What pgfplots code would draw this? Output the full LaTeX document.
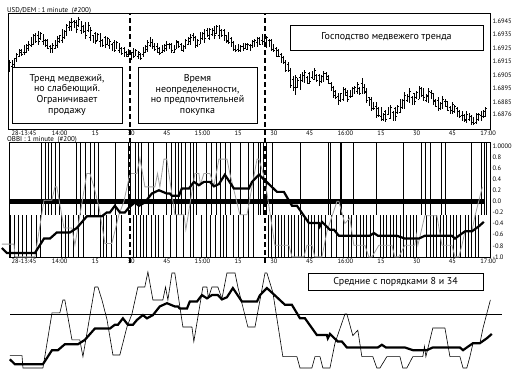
\documentclass[border=0pt]{standalone}
\usepackage{pgfplots}
\pgfplotsset{compat=1.18}
\usepackage{pgfplotstable}
\usepackage{fontspec}
\setmainfont{PT Sans}

\pgfplotstableread{
t hi lo op cl
-6 1.6916 1.6907 1.6908 1.6914
-4 1.6918 1.6911 1.6913 1.6917
-2 1.6924 1.6918 1.6919 1.6923
0 1.6927 1.6920 1.6922 1.6926
2 1.6930 1.6923 1.6925 1.6928
4 1.6935 1.6927 1.6928 1.6934
6 1.6938 1.6927 1.6934 1.6930
8 1.6935 1.6927 1.6930 1.6933
10 1.6932 1.6924 1.6931 1.6925
12 1.6929 1.6921 1.6925 1.6927
14 1.6934 1.6925 1.6927 1.6932
16 1.6939 1.6929 1.6931 1.6937
18 1.6943 1.6934 1.6936 1.6942
20 1.6947 1.6938 1.6941 1.6944
22 1.6946 1.6936 1.6944 1.6939
24 1.6945 1.6935 1.6938 1.6943
26 1.6944 1.6932 1.6942 1.6934
28 1.6941 1.6930 1.6933 1.6938
30 1.6937 1.6928 1.6936 1.6930
32 1.6936 1.6926 1.6930 1.6934
34 1.6934 1.6925 1.6933 1.6927
36 1.6932 1.6924 1.6927 1.6930
38 1.6931 1.6922 1.6929 1.6923
40 1.6929 1.6921 1.6923 1.6927
42 1.6926 1.6918 1.6925 1.6920
44 1.6924 1.6918 1.6920 1.6922
46 1.6925 1.6918 1.6922 1.6919
48 1.6923 1.6917 1.6919 1.6922
50 1.6926 1.6918 1.6920 1.6925
52 1.6931 1.6922 1.6924 1.6929
54 1.6932 1.6924 1.6929 1.6926
56 1.6929 1.6921 1.6926 1.6922
58 1.6927 1.6921 1.6922 1.6926
60 1.6930 1.6923 1.6925 1.6928
62 1.6929 1.6921 1.6928 1.6923
64 1.6931 1.6924 1.6924 1.6930
66 1.6929 1.6923 1.6928 1.6925
68 1.6932 1.6924 1.6925 1.6931
70 1.6935 1.6927 1.6930 1.6933
72 1.6934 1.6925 1.6933 1.6927
74 1.6937 1.6928 1.6928 1.6936
76 1.6939 1.6929 1.6935 1.6932
78 1.6940 1.6931 1.6932 1.6939
80 1.6941 1.6932 1.6938 1.6934
82 1.6942 1.6932 1.6934 1.6941
84 1.6939 1.6930 1.6938 1.6931
86 1.6937 1.6928 1.6931 1.6929
88 1.6930 1.6923 1.6929 1.6924
90 1.6928 1.6922 1.6924 1.6926
92 1.6929 1.6923 1.6926 1.6924
94 1.6929 1.6924 1.6924 1.6928
96 1.6931 1.6925 1.6927 1.6930
98 1.6933 1.6926 1.6929 1.6932
100 1.6935 1.6927 1.6931 1.6929
102 1.6934 1.6925 1.6929 1.6933
104 1.6932 1.6923 1.6931 1.6924
106 1.6926 1.6918 1.6925 1.6919
108 1.6921 1.6914 1.6920 1.6915
110 1.6916 1.6907 1.6915 1.6908
112 1.6910 1.6895 1.6908 1.6897
114 1.6905 1.6890 1.6896 1.6903
116 1.6906 1.6894 1.6903 1.6896
118 1.6909 1.6899 1.6900 1.6907
120 1.6907 1.6898 1.6906 1.6900
122 1.6910 1.6901 1.6902 1.6908
124 1.6906 1.6897 1.6905 1.6899
126 1.6908 1.6900 1.6901 1.6906
128 1.6905 1.6898 1.6904 1.6899
130 1.6897 1.6888 1.6896 1.6890
132 1.6892 1.6883 1.6889 1.6885
134 1.6896 1.6886 1.6887 1.6894
136 1.6894 1.6885 1.6892 1.6887
138 1.6896 1.6889 1.6889 1.6895
140 1.6900 1.6891 1.6893 1.6898
142 1.6903 1.6891 1.6899 1.6893
144 1.6895 1.6884 1.6893 1.6886
146 1.6889 1.6878 1.6887 1.6880
148 1.6885 1.6873 1.6882 1.6875
150 1.6881 1.6871 1.6874 1.6879
152 1.6879 1.6870 1.6878 1.6872
154 1.6883 1.6872 1.6873 1.6881
156 1.6881 1.6871 1.6880 1.6874
158 1.6887 1.6877 1.6877 1.6885
160 1.6892 1.6880 1.6884 1.6890
162 1.6895 1.6884 1.6889 1.6893
164 1.6892 1.6883 1.6891 1.6885
166 1.6897 1.6887 1.6887 1.6895
168 1.6895 1.6886 1.6894 1.6888
170 1.6895 1.6884 1.6889 1.6893
172 1.6892 1.6883 1.6891 1.6885
174 1.6889 1.6878 1.6886 1.6880
176 1.6889 1.6880 1.6881 1.6887
178 1.6886 1.6878 1.6885 1.6879
180 1.6885 1.6876 1.6879 1.6883
182 1.6881 1.6874 1.6880 1.6875
184 1.6878 1.6871 1.6875 1.6872
186 1.6878 1.6869 1.6872 1.6876
188 1.6875 1.6868 1.6874 1.6870
190 1.6877 1.6869 1.6870 1.6876
192 1.6878 1.6871 1.6875 1.6873
194 1.6881 1.6874 1.6874 1.6880
-5 1.6916 1.6910 1.6911 1.6915
-3 1.6921 1.6915 1.6916 1.6920
-1 1.6924 1.6919 1.6922 1.6920
1 1.6928 1.6921 1.6922 1.6927
3 1.6933 1.6926 1.6927 1.6932
5 1.6936 1.6929 1.6934 1.6930
7 1.6937 1.6931 1.6932 1.6936
9 1.6932 1.6926 1.6931 1.6927
11 1.6927 1.6921 1.6926 1.6922
13 1.6931 1.6924 1.6925 1.6930
15 1.6935 1.6929 1.6930 1.6934
17 1.6938 1.6932 1.6933 1.6937
19 1.6945 1.6938 1.6940 1.6944
21 1.6946 1.6940 1.6945 1.6941
23 1.6948 1.6941 1.6942 1.6946
25 1.6942 1.6936 1.6941 1.6937
27 1.6944 1.6937 1.6938 1.6942
29 1.6935 1.6929 1.6934 1.6930
31 1.6936 1.6930 1.6931 1.6935
33 1.6932 1.6926 1.6931 1.6927
35 1.6933 1.6927 1.6928 1.6932
37 1.6929 1.6923 1.6928 1.6924
39 1.6930 1.6924 1.6925 1.6929
41 1.6926 1.6920 1.6925 1.6921
43 1.6923 1.6918 1.6922 1.6919
45 1.6922 1.6916 1.6917 1.6921
47 1.6924 1.6919 1.6920 1.6923
49 1.6921 1.6916 1.6920 1.6917
51 1.6927 1.6921 1.6922 1.6926
53 1.6933 1.6926 1.6927 1.6931
55 1.6929 1.6923 1.6928 1.6924
57 1.6926 1.6920 1.6925 1.6921
59 1.6928 1.6922 1.6923 1.6927
61 1.6929 1.6924 1.6928 1.6925
63 1.6927 1.6921 1.6922 1.6926
65 1.6930 1.6925 1.6929 1.6926
67 1.6927 1.6922 1.6923 1.6926
69 1.6933 1.6927 1.6928 1.6932
71 1.6936 1.6930 1.6934 1.6931
73 1.6932 1.6926 1.6927 1.6931
75 1.6937 1.6931 1.6932 1.6936
77 1.6940 1.6933 1.6938 1.6934
79 1.6940 1.6934 1.6935 1.6939
81 1.6942 1.6935 1.6936 1.6941
83 1.6939 1.6933 1.6938 1.6934
85 1.6935 1.6929 1.6934 1.6930
87 1.6933 1.6926 1.6932 1.6927
89 1.6927 1.6922 1.6926 1.6923
91 1.6927 1.6922 1.6923 1.6926
93 1.6929 1.6924 1.6925 1.6928
95 1.6928 1.6923 1.6927 1.6924
97 1.6932 1.6926 1.6927 1.6931
99 1.6933 1.6927 1.6932 1.6928
101 1.6935 1.6929 1.6930 1.6934
103 1.6932 1.6926 1.6931 1.6927
105 1.6928 1.6922 1.6927 1.6923
107 1.6924 1.6918 1.6923 1.6919
109 1.6919 1.6913 1.6918 1.6914
111 1.6915 1.6907 1.6913 1.6909
113 1.6904 1.6893 1.6902 1.6895
115 1.6903 1.6895 1.6896 1.6901
117 1.6907 1.6900 1.6901 1.6905
119 1.6904 1.6898 1.6903 1.6899
121 1.6908 1.6902 1.6903 1.6907
123 1.6906 1.6900 1.6905 1.6901
125 1.6905 1.6899 1.6900 1.6904
127 1.6907 1.6901 1.6906 1.6902
129 1.6900 1.6893 1.6899 1.6894
131 1.6894 1.6887 1.6893 1.6888
133 1.6892 1.6885 1.6886 1.6891
135 1.6895 1.6889 1.6894 1.6890
137 1.6894 1.6888 1.6889 1.6893
139 1.6897 1.6891 1.6892 1.6896
141 1.6896 1.6890 1.6895 1.6891
143 1.6898 1.6891 1.6896 1.6892
145 1.6889 1.6882 1.6888 1.6883
147 1.6885 1.6879 1.6884 1.6880
149 1.6881 1.6874 1.6880 1.6875
151 1.6877 1.6871 1.6872 1.6876
153 1.6881 1.6875 1.6876 1.6880
155 1.6878 1.6871 1.6877 1.6872
157 1.6883 1.6876 1.6877 1.6882
159 1.6887 1.6880 1.6881 1.6886
161 1.6891 1.6885 1.6886 1.6890
163 1.6889 1.6883 1.6888 1.6884
165 1.6893 1.6887 1.6888 1.6892
167 1.6896 1.6889 1.6895 1.6890
169 1.6891 1.6885 1.6886 1.6890
171 1.6894 1.6887 1.6892 1.6888
173 1.6887 1.6881 1.6886 1.6882
175 1.6885 1.6879 1.6880 1.6884
177 1.6887 1.6881 1.6885 1.6882
179 1.6882 1.6876 1.6881 1.6877
181 1.6883 1.6877 1.6878 1.6882
183 1.6879 1.6873 1.6878 1.6874
185 1.6876 1.6870 1.6875 1.6871
187 1.6877 1.6871 1.6872 1.6876
189 1.6874 1.6868 1.6873 1.6869
191 1.6877 1.6871 1.6872 1.6876
193 1.6879 1.6873 1.6874 1.6878
}\price

\pgfplotstableread[row sep=\\]{t\\7.4\\8.8\\10.2\\11.6\\13\\14.8\\21.8\\23.5\\25.8\\27.7\\29.4\\31.2\\38.2\\43.8\\44.8\\46.6\\48\\49.4\\52.2\\54.3\\60\\62\\63.4\\64.8\\66.3\\67.6\\69.7\\71.1\\72.6\\76.8\\78.9\\81\\82.4\\84.5\\86.6\\90.8\\94.2\\96.3\\98.4\\99.5\\100.5\\102\\104.5\\116\\127.9\\128.6\\132.8\\133.5\\138.4\\148.2\\159.4\\167.1\\168.5\\170.6\\175.5\\177\\188.1\\192.3\\193.3\\194.4\\}\upsig

\pgfplotstableread[row sep=\\]{t\\-5.9\\-4.2\\-2.4\\-0.6\\1.1\\3.2\\5\\6.7\\15.8\\17.2\\18.6\\20.7\\22.8\\24.9\\31.9\\33.3\\34.7\\36.8\\38.9\\41\\45.9\\47.3\\48.7\\50.1\\51.6\\53.7\\55\\56.4\\58.5\\61.3\\64.2\\66.9\\69.7\\71.1\\74.7\\76.8\\78.2\\80.3\\82.4\\83.7\\85.2\\87.9\\90\\92.1\\94.2\\96.3\\102.6\\104\\105.4\\106.8\\108.2\\109.6\\111\\112.4\\113.8\\115.2\\116.6\\118\\119.4\\120.8\\122.2\\123.6\\125\\126.5\\129.3\\131.4\\134.2\\136.3\\137.7\\139.8\\141.2\\142.6\\144\\145.4\\146.8\\149.6\\151\\152.4\\153.8\\155.2\\156.6\\158\\159.4\\160.8\\162.2\\163.6\\165\\169.2\\170.6\\172\\173.4\\174.8\\176.2\\177.6\\179\\180.4\\181.8\\183.2\\185.3\\186.7\\188.1\\189.5\\190.9\\}\dnsig

\pgfplotstableread{
t v
-9.3 -0.77
-4.2 -0.77
-3.8 -1.0
4.6 -1.0
8.4 0.02
11.7 0.02
13 0.26
13.8 0.26
16.8 -0.48
20.1 -0.48
21.4 -0.79
23.1 -0.35
26.4 0.5
27.7 0.5
29.4 0.26
31.5 -0.1
34 -0.76
36.9 -0.76
39.9 -0.24
42 0.0
44.5 0.5
47.4 0.5
48.7 0.78
50.8 0.26
55 0.26
56.1 0.5
57.1 0.26
58.8 0.76
60 0.76
63.4 -0.24
67.2 -0.24
68 -0.51
71.8 0.5
73.5 0.5
74.1 0.3
75.6 0.5
78.1 0.5
79.8 0.28
81.9 0.76
85.3 0.76
86.5 0.5
90.7 -0.24
93.7 -0.24
97.9 0.76
98.7 0.76
101.2 0.4
105.4 -0.79
111.3 -0.79
112.6 -1.0
117.6 -1.0
118.9 -0.79
121 -0.79
122.2 -1.0
125.2 -1.0
127.3 -0.54
131.5 0.0
132.3 0.0
134.8 -0.4
136.9 -0.3
138.6 -0.79
143.2 -0.79
144.9 -1.0
146.2 -1.0
149.1 -0.79
154.6 -0.79
155.8 -1.0
157.5 -1.0
160 -0.79
164.2 -0.79
164.9 -0.6
165.5 -0.79
168.4 -0.26
173.5 -0.26
175.6 -0.79
179.8 -0.79
181.1 -1.0
182.7 -1.0
184 -0.79
185.3 -0.54
188.2 -0.54
189.5 -0.26
192.6 0.26
}\fast

\pgfplotstableread{
t v
-9.3 -0.84
-7.2 -0.93
4.6 -0.93
8.4 -0.67
10.9 -0.67
13.8 -0.56
19.3 -0.56
22.2 -0.48
26.4 -0.27
32.7 -0.27
34.8 -0.2
36.1 -0.2
38.2 -0.08
40.3 -0.2
42.4 -0.2
44.1 -0.11
46.6 -0.02
48.3 -0.08
50.8 -0.02
53.7 0.14
56.7 0.2
60 0.14
61.3 0.14
62.1 0.1
65.1 0.1
66.3 0.23
69.3 0.23
71.4 0.35
73.5 0.29
75.6 0.35
78.1 0.35
79.8 0.27
81.9 0.31
84.4 0.48
88.2 0.23
94.5 0.23
95.8 0.35
98.7 0.48
101.2 0.38
106.3 0.17
109.2 0.17
112.6 -0.08
114.7 -0.08
119.7 -0.39
123.9 -0.39
124.3 -0.45
125.2 -0.37
128.5 -0.51
130.2 -0.51
132.3 -0.62
145.3 -0.62
147 -0.57
148.7 -0.62
156.7 -0.62
160 -0.67
165.9 -0.67
168.4 -0.62
179.8 -0.62
181.1 -0.67
182.7 -0.62
185.3 -0.54
188.2 -0.54
191.1 -0.45
193.2 -0.37
}\slow

\definecolor{lgray}{RGB}{160,160,160}

\pgfdeclareplotmark{ltick}{\pgfpathmoveto{\pgfqpoint{-1.3bp}{0pt}}\pgfpathlineto{\pgfqpoint{0pt}{0pt}}\pgfusepathqstroke}
\pgfdeclareplotmark{rtick}{\pgfpathmoveto{\pgfqpoint{0pt}{0pt}}\pgfpathlineto{\pgfqpoint{1.3bp}{0pt}}\pgfusepathqstroke}

\begin{document}
\begin{tikzpicture}
\path[use as bounding box] (0bp,0bp) rectangle (529bp,378bp);
\pgfplotsset{
  common/.style={scale only axis, width=481bp, xmin=-6.3, xmax=195.8, anchor=south west,
    xtick={0,15,...,195},
    xticklabels={28-13:45,14:00,15,30,45,15:00,15,30,45,16:00,15,30,45,17:00},
    tick label style={font=\fontsize{6.5}{7}\selectfont},
    major tick length=0pt,
    xticklabel style={anchor=north, inner sep=0.5pt},
    yticklabel pos=right,
    yticklabel style={anchor=west, inner sep=0pt, xshift=2.5bp},
    axis line style={line width=1bp},
  },
  vbar/.style={draw=none, mark=none, forget plot,
    error bars/y dir=both, error bars/error mark=none,
    error bars/error bar style={draw=black, solid, line width=#1}},
}
% ---------- price panel
\begin{axis}[common, at={(9bp,248bp)}, height=116bp, ymin=1.68641, ymax=1.69502,
  ytick={1.6876,1.6885,1.6895,1.6905,1.6915,1.6925,1.6935,1.6945},
  yticklabels={1.6876,1.6885,1.6895,1.6905,1.6915,1.6925,1.6935,1.6945}]
\addplot[vbar=0.8bp, error bars/y explicit]
  table[x=t, y expr={(\thisrow{hi}+\thisrow{lo})/2}, y error expr={(\thisrow{hi}-\thisrow{lo})/2}] {\price};
\addplot[only marks, mark=ltick, mark options={line width=0.7bp, black}] table[x=t, y=op] {\price};
\addplot[only marks, mark=rtick, mark options={line width=0.7bp, black}] table[x=t, y=cl] {\price};
\end{axis}
\node[draw, line width=0.8bp, fill=white, minimum width=110bp, minimum height=56bp, inner sep=0pt, align=center, font=\fontsize{10}{11}\selectfont] at (67bp,283bp) {Тренд медвежий,\\но слабеющий.\\Ограничивает\\продажу};
\node[draw, line width=0.8bp, fill=white, minimum width=119bp, minimum height=56bp, inner sep=0pt, align=center, font=\fontsize{10}{11}\selectfont] at (197.5bp,283bp) {Время\\неопределенности,\\но предпочтительней\\покупка};
\node[draw, line width=0.8bp, fill=white, minimum width=193bp, minimum height=25bp, inner sep=0pt, align=center, font=\fontsize{10}{11}\selectfont] at (386.5bp,340.5bp) {Господство медвежего тренда};
\node[anchor=base west, inner sep=0pt, font=\fontsize{7}{8}\selectfont] at (7bp,365.5bp) {USD/DEM : 1 minute \ (\#200)};
% ---------- OBBI panel
\begin{axis}[common, at={(9bp,120bp)}, height=115bp, ymin=-1.02, ymax=1.05, clip=false,
  ytick={-1,-0.8,-0.6,-0.4,-0.2,0,0.2,0.4,0.6,0.8,1},
  yticklabels={-1.0,-0.8,-0.6,-0.4,-0.2,0.0,0.2,0.4,0.6,0.8,1.0000}]
\addplot[vbar=0.7bp, error bars/y fixed=0.65] table[x=t, y=t, y expr=0.4] {\upsig};
\addplot[vbar=0.7bp, error bars/y fixed=0.385] table[x=t, y=t, y expr=-0.635] {\dnsig};
\addplot[black, line width=4.5bp] coordinates {(-5.9,0) (193.7,0)};
\addplot[lgray, line width=0.8bp] table[x=t, y=v] {\fast};
\addplot[black, line width=2.2bp] table[x=t, y=v] {\slow};
\draw[line width=1.6bp, dash pattern=on 5bp off 3bp] (axis cs:44.5,-1.11) -- (axis cs:44.5,3.37);
\draw[line width=1.6bp, dash pattern=on 5bp off 3bp] (axis cs:101.3,-1.11) -- (axis cs:101.3,3.37);
\end{axis}
\node[anchor=base west, inner sep=0pt, font=\fontsize{7}{8}\selectfont] at (7bp,236.5bp) {OBBI : 1 minute \ (\#200)};
% ---------- averages panel
\begin{axis}[at={(17bp,4.6bp)}, anchor=south west, scale only axis, width=481bp, height=105.3bp,
  xmin=-6.3, xmax=195.8, ymin=-1.1, ymax=0.85, hide axis, clip=false]
\addplot[black, line width=0.8bp] coordinates {(-9.2,0) (197.5,0)};
\addplot[black, line width=0.6bp] table[x=t, y=v] {\fast};
\addplot[black, line width=2.2bp] table[x=t, y=v] {\slow};
\end{axis}
\node[draw, line width=0.8bp, fill=white, minimum width=175bp, minimum height=17bp, inner sep=0pt, align=center, font=\fontsize{10}{11}\selectfont] at (395.5bp,96.5bp) {Средние с порядками 8 и 34};
\end{tikzpicture}
\end{document}
